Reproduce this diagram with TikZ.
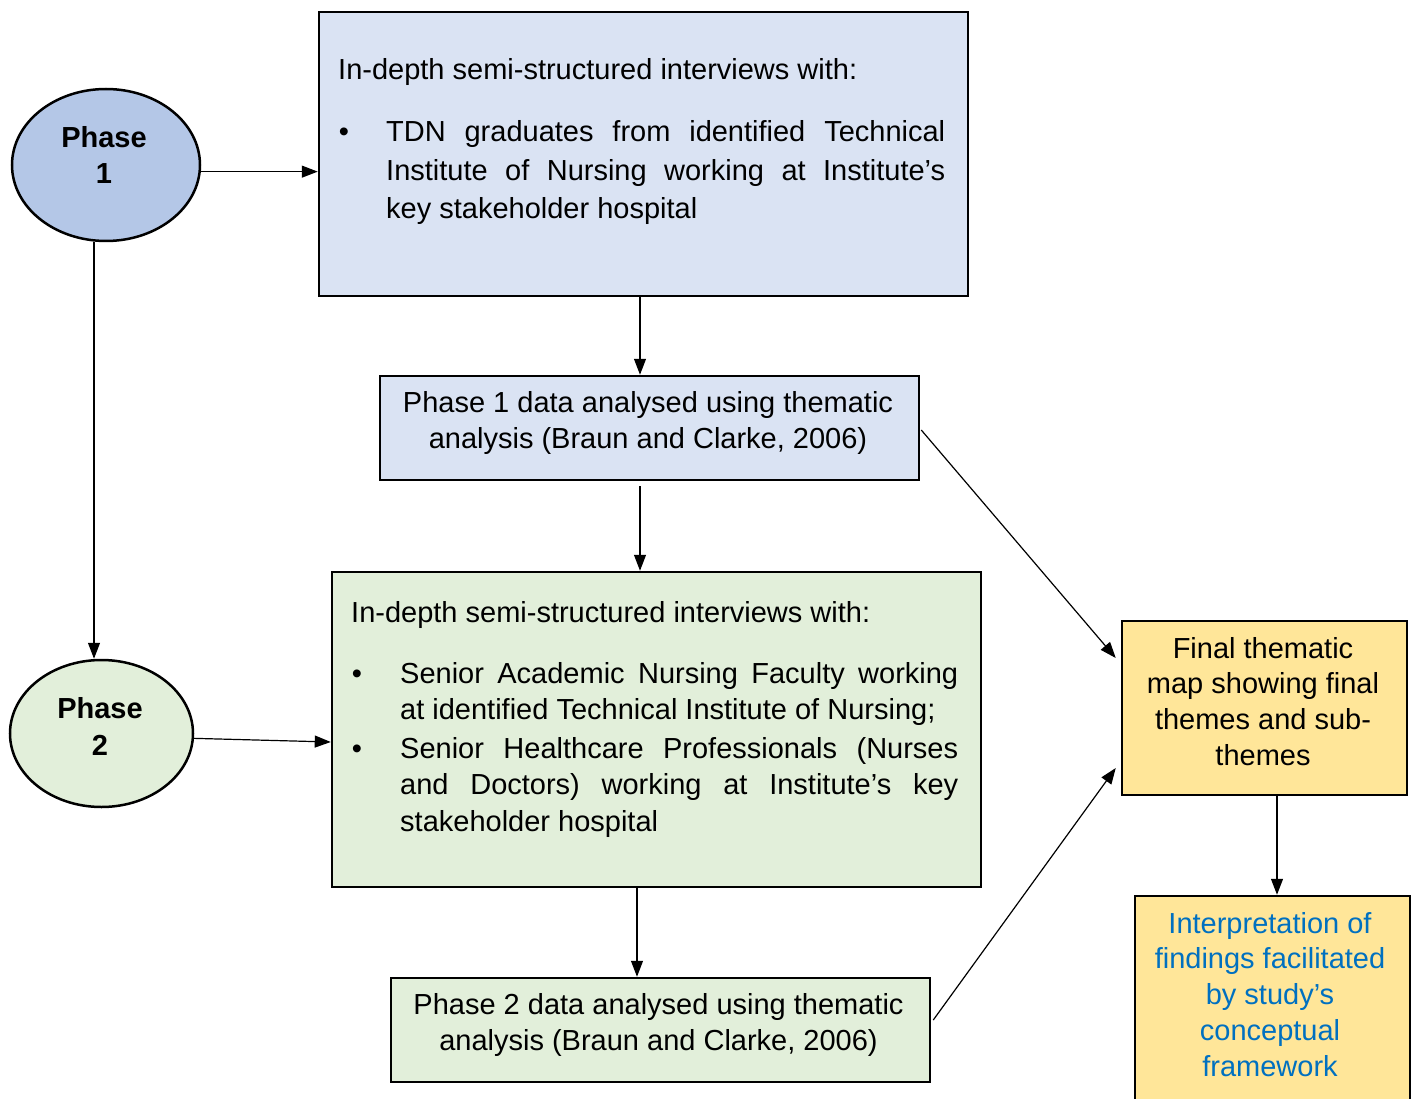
\documentclass[tikz,border=0pt]{standalone}
\usepackage{fontspec}
\setmainfont{Liberation Sans}
\usetikzlibrary{shapes.geometric,arrows.meta,calc}
\definecolor{pblue}{HTML}{B4C7E7}
\definecolor{lblue}{HTML}{DAE3F3}
\definecolor{lgreen}{HTML}{E2EFDA}
\definecolor{lyellow}{HTML}{FFE699}
\definecolor{tblue}{HTML}{0070C0}
\begin{document}
\begin{tikzpicture}[x=1pt,y=-1pt,
  box/.style={draw=black,line width=2.5pt,inner sep=0pt,rectangle},
  phase/.style={draw=black,line width=2.5pt,inner sep=0pt,ellipse},
  arr/.style={line width=1.2pt,-{Triangle[length=16pt,width=12pt]}},
  txt/.style={inner sep=0pt,font=\fontsize{29}{37}\selectfont},
  bul/.style={inner sep=0pt,anchor=base,font=\fontsize{29}{37}\selectfont}
]
\useasboundingbox (0,0) rectangle (1413,1099);
\clip (0,0) rectangle (1413,1099);

% shapes
\node[phase,fill=pblue,minimum width=188pt,minimum height=152pt] (p1) at (106,165) {};
\node[phase,fill=lgreen,minimum width=183pt,minimum height=147pt] (p2) at (101.5,733.5) {};
\node[box,fill=lblue,minimum width=649pt,minimum height=284pt] (b1) at (643.5,154) {};
\node[box,fill=lblue,minimum width=539pt,minimum height=104pt] (b2) at (649.5,428) {};
\node[box,fill=lgreen,minimum width=649pt,minimum height=315pt] (b3) at (656.5,729.5) {};
\node[box,fill=lgreen,minimum width=539pt,minimum height=104pt] (b4) at (660.5,1030) {};
\node[box,fill=lyellow,minimum width=285pt,minimum height=174pt] (fin) at (1264.5,708) {};
\node[box,fill=lyellow,minimum width=275pt,minimum height=214pt] (int) at (1272.5,1003) {};

% phase labels
\node[txt,anchor=base,font=\fontsize{29}{36}\selectfont\bfseries] (p1t) at (104,148)
  {\parbox[t]{150pt}{\centering Phase\\1}};
\node[txt,anchor=base,font=\fontsize{29}{37}\selectfont\bfseries] (p2t) at (100,718)
  {\parbox[t]{150pt}{\centering Phase\\2}};

% box 1 text
\node[txt,anchor=base west] (b1h) at (338,80) {In-depth semi-structured interviews with:};
\node[bul] (b1d) at (344,142) {\textbullet};
\node[txt,anchor=base west] (b1t) at (386,142)
  {\parbox[t]{559pt}{\fontsize{29}{38.5}\selectfont\hyphenpenalty=10000
  TDN graduates from identified Technical\linebreak
  Institute of Nursing working at Institute’s\linebreak
  key stakeholder hospital}};

% box 2 text
\node[txt,anchor=base] (b2t) at (648,412)
  {\parbox[t]{530pt}{\centering\fontsize{29}{36}\selectfont
  Phase 1 data analysed using thematic\\analysis (Braun and Clarke, 2006)}};

% box 3 text
\node[txt,anchor=base west] (b3h) at (351,622) {In-depth semi-structured interviews with:};
\node[bul] (b3d1) at (357,683) {\textbullet};
\node[txt,anchor=base west] (b3t1) at (400,683)
  {\parbox[t]{558pt}{\fontsize{29}{36}\selectfont\hyphenpenalty=10000
  Senior Academic Nursing Faculty working\linebreak
  at identified Technical Institute of Nursing;}};
\node[bul] (b3d2) at (357,758) {\textbullet};
\node[txt,anchor=base west] (b3t2) at (400,758)
  {\parbox[t]{558pt}{\fontsize{29}{36.5}\selectfont\hyphenpenalty=10000
  Senior Healthcare Professionals (Nurses\linebreak
  and Doctors) working at Institute’s key\linebreak
  stakeholder hospital}};

% box 4 text
\node[txt,anchor=base] (b4t) at (658.5,1014)
  {\parbox[t]{530pt}{\centering\fontsize{29}{36}\selectfont
  Phase 2 data analysed using thematic\\analysis (Braun and Clarke, 2006)}};

% final box text
\node[txt,anchor=base] (fint) at (1263,658)
  {\parbox[t]{270pt}{\centering\fontsize{29}{35.7}\selectfont
  Final thematic\\map showing final\\themes and sub-\\themes}};

% interpretation text
\node[txt,anchor=base,text=tblue] (intt) at (1270,933)
  {\parbox[t]{270pt}{\centering\fontsize{29}{35.75}\selectfont
  Interpretation of\\findings facilitated\\by study’s\\conceptual\\framework}};

% connectors
\draw[arr] (p1.-4.3) -- (p1.-4.3 -| b1.west);
\draw[arr] ($(p1.south)+(-12,0)$) -- ($(p2.north)+(-7.5,0)$);
\draw[arr] ($(b1.south)+(-3.5,0)$) -- ($(b2.north)+(-9.5,0)$);
\draw[arr] ($(b2.south)+(-9.5,5)$) -- ($(b3.north)+(-16.5,0)$);
\draw[arr] ($(b2.east)+(1,2)$) -- ($(fin.west)+(-5,-50)$);
\draw[arr] (p2.-3.4) -- ($(b3.west)+(0,12.5)$);
\draw[arr] ($(b3.south)+(-19.5,0)$) -- ($(b4.north)+(-23.5,0)$);
\draw[arr] ($(b4.east)+(2,-10)$) -- ($(fin.west)+(-5,60)$);
\draw[arr] ($(fin.south)+(12.5,0)$) -- ($(int.north)+(4.5,0)$);
\end{tikzpicture}
\end{document}
